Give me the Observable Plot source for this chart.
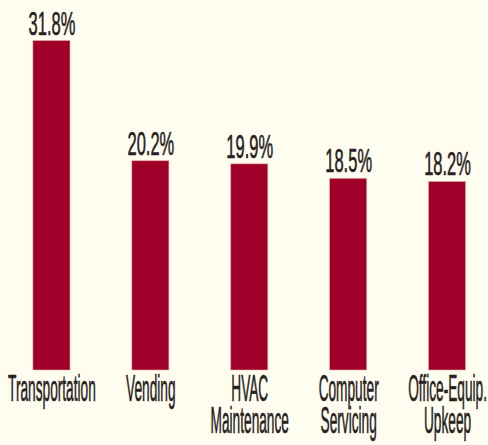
<!DOCTYPE html>
<html>
<head>
<meta charset="utf-8">
<script src="https://cdn.jsdelivr.net/npm/d3@7"></script>
<script src="https://cdn.jsdelivr.net/npm/@observablehq/plot@0.6"></script>
<style>
  html, body { margin: 0; padding: 0; background: #fffdf0; }
  #chart { width: 488px; height: 445px; overflow: hidden; }
</style>
</head>
<body>
<div id="chart"></div>
<script>
const categories = ["Transportation", "Vending", "HVAC\nMaintenance", "Computer\nServicing", "Office-Equip.\nUpkeep"];
const values = [31.8, 20.2, 19.9, 18.5, 18.2];
const valueLabels = ["31.8%", "20.2%", "19.9%", "18.5%", "18.2%"];

const data = categories.map((c, i) => ({category: c, value: values[i], label: valueLabels[i]}));

const W = 488, H = 445;
const barColor = "#a0002a";
const textColor = "#26211c";
const font = "'Liberation Sans', Arial, 'DejaVu Sans', sans-serif";

const chart = Plot.plot({
  width: W,
  height: H,
  marginTop: 40.5,
  marginBottom: 75,
  marginLeft: 23,
  marginRight: 12.5,
  style: {background: "#fffdf0", fontFamily: font, overflow: "visible"},
  x: {domain: categories, paddingInner: 0.625, paddingOuter: 0.1, round: false, axis: null},
  y: {domain: [0, 31.8], axis: null},
  marks: [
    Plot.barY(data, {x: "category", y: "value", fill: barColor, stroke: "#e6b4a6", strokeWidth: 0.8, strokeOpacity: 0.7}),
    Plot.text(data, {x: "category", y: "value", text: "label", lineAnchor: "bottom", dy: -6.5,
      fontSize: 33, fontWeight: "normal", fill: textColor, stroke: textColor, strokeWidth: 0.6}),
    Plot.text(data, {x: "category", y: 0, text: "category", lineAnchor: "top", dy: 7, lineHeight: 0.88,
      fontSize: 37, fontWeight: "normal", fill: textColor, stroke: textColor, strokeWidth: 0.6})
  ]
});

document.getElementById("chart").appendChild(chart);

// Condense the lettering horizontally, like the reference's ultra-condensed face.
const groups = chart.querySelectorAll('g[aria-label="text"]');
const scales = [0.5, 0.37];
groups.forEach((g, gi) => {
  const s = scales[gi] ?? 0.4;
  g.querySelectorAll("text").forEach(t => {
    const x = parseFloat(t.getAttribute("x")) || 0;
    const tr = t.getAttribute("transform") || "";
    t.setAttribute("transform", `${tr} translate(${x},0) scale(${s},1) translate(${-x},0)`);
  });
});
</script>
</body>
</html>
